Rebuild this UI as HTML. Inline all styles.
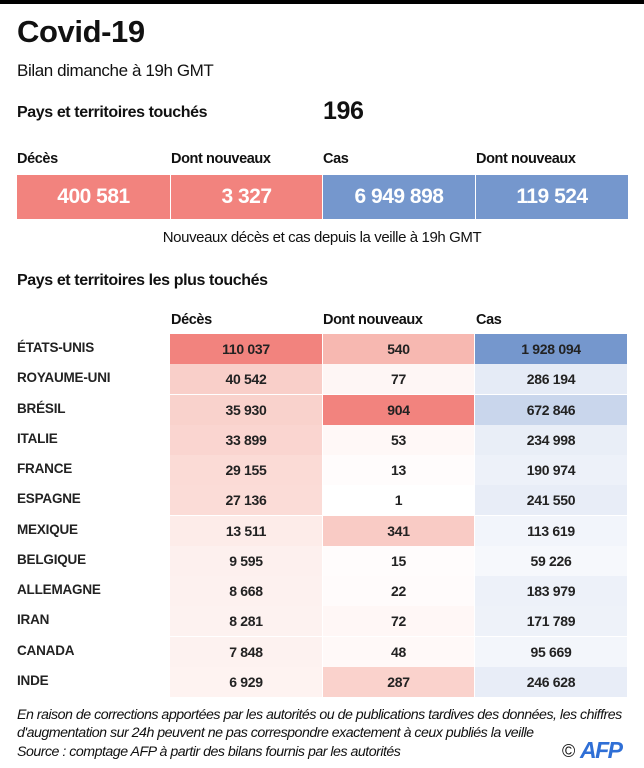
<!DOCTYPE html>
<html><head><meta charset="utf-8"><style>
*{margin:0;padding:0;box-sizing:border-box}
body{width:644px;height:768px;background:#fff;font-family:"Liberation Sans",sans-serif;color:#111;position:relative;overflow:hidden}
.a{position:absolute;white-space:nowrap}
.t{letter-spacing:-0.4px}
.b{font-weight:bold}
.box{position:absolute;top:175px;height:44px;color:#fff;font-size:21px;font-weight:bold;text-align:center;line-height:44px;letter-spacing:-0.5px}
.cell{position:absolute;height:30px;text-align:center;line-height:30px;font-size:14px;font-weight:bold;letter-spacing:-0.3px;color:#222}
.lab{position:absolute;left:17px;font-size:13.5px;font-weight:bold;line-height:30px;letter-spacing:-0.2px;color:#222}
</style></head><body>
<div class="a" style="left:0;top:0;width:644px;height:4px;background:#000"></div>
<div class="a t" style="left:17px;top:14px;font-size:31px;font-weight:bold">Covid-19</div>
<div class="a t" style="left:17px;top:61px;font-size:17px">Bilan dimanche à 19h GMT</div>
<div class="a t b" style="left:17px;top:104px;font-size:16px">Pays et territoires touchés</div>
<div class="a t b" style="left:323px;top:97px;font-size:25px">196</div>
<div class="a t b" style="left:17px;top:151px;font-size:14.5px">Décès</div>
<div class="a t b" style="left:171px;top:151px;font-size:14.5px">Dont nouveaux</div>
<div class="a t b" style="left:323px;top:151px;font-size:14.5px">Cas</div>
<div class="a t b" style="left:476px;top:151px;font-size:14.5px">Dont nouveaux</div>
<div class="box" style="left:17px;width:153px;background:#f2837e">400 581</div>
<div class="box" style="left:171px;width:151px;background:#f2837e">3 327</div>
<div class="box" style="left:323px;width:152px;background:#7597cd">6 949 898</div>
<div class="box" style="left:476px;width:152px;background:#7597cd">119 524</div>
<div class="a t" style="left:0;width:644px;text-align:center;top:229px;font-size:15px">Nouveaux décès et cas depuis la veille à 19h GMT</div>
<div class="a t b" style="left:17px;top:272px;font-size:16px">Pays et territoires les plus touchés</div>
<div class="a t b" style="left:171px;top:312px;font-size:14.5px">Décès</div>
<div class="a t b" style="left:323px;top:312px;font-size:14.5px">Dont nouveaux</div>
<div class="a t b" style="left:476px;top:312px;font-size:14.5px">Cas</div>
<div id="tb"></div>
<div class="a" style="left:17px;top:706px;font-size:14.2px;font-style:italic;line-height:18px;letter-spacing:-0.5px">En raison de corrections apportées par les autorités ou de publications tardives des données, les chiffres<br>d'augmentation sur 24h peuvent ne pas correspondre exactement à ceux publiés la veille</div>
<div class="a" style="left:17px;top:744px;font-size:14.2px;font-style:italic;letter-spacing:-0.5px">Source : comptage AFP à partir des bilans fournis par les autorités</div>
<div class="a" style="left:562px;top:741px;font-size:18px">©</div>
<div class="a" style="left:580px;top:737px;font-size:23px;font-weight:bold;font-style:italic;color:#2f6fd6;letter-spacing:-1.5px">AFP</div>
<script>
var d=[["ÉTATS-UNIS","110 037","540","1 928 094","#f2837e","#f7b8b1","#7597cd"],
["ROYAUME-UNI","40 542","77","286 194","#f9cfc9","#fef6f5","#e5ebf6"],
["BRÉSIL","35 930","904","672 846","#f9d2cc","#f2837e","#c9d6ec"],
["ITALIE","33 899","53","234 998","#fad5d0","#fff8f7","#e9eef7"],
["FRANCE","29 155","13","190 974","#fbdbd6","#fffcfc","#edf1f9"],
["ESPAGNE","27 136","1","241 550","#fbdcd7","#ffffff","#e8edf7"],
["MEXIQUE","13 511","341","113 619","#fdece9","#f9cbc5","#f2f5fb"],
["BELGIQUE","9 595","15","59 226","#fdf0ee","#fffcfc","#f6f8fc"],
["ALLEMAGNE","8 668","22","183 979","#fdf1ef","#fffbfb","#edf1f9"],
["IRAN","8 281","72","171 789","#fdf2f0","#fff7f6","#eef2f9"],
["CANADA","7 848","48","95 669","#fdf2f0","#fff9f8","#f3f6fb"],
["INDE","6 929","287","246 628","#fef3f1","#fad2cc","#e8edf7"]];
var h="",xs=[170,323,475],ws=[152,151,152];
d.forEach(function(r,i){var y=Math.round(334+i*30.25);
h+='<div class="lab" style="top:'+(y-1)+'px">'+r[0]+'</div>';
for(var j=0;j<3;j++)h+='<div class="cell" style="left:'+xs[j]+'px;width:'+ws[j]+'px;top:'+y+'px;background:'+r[4+j]+'">'+r[1+j]+'</div>';});
document.getElementById("tb").innerHTML=h;
</script>
</body></html>
